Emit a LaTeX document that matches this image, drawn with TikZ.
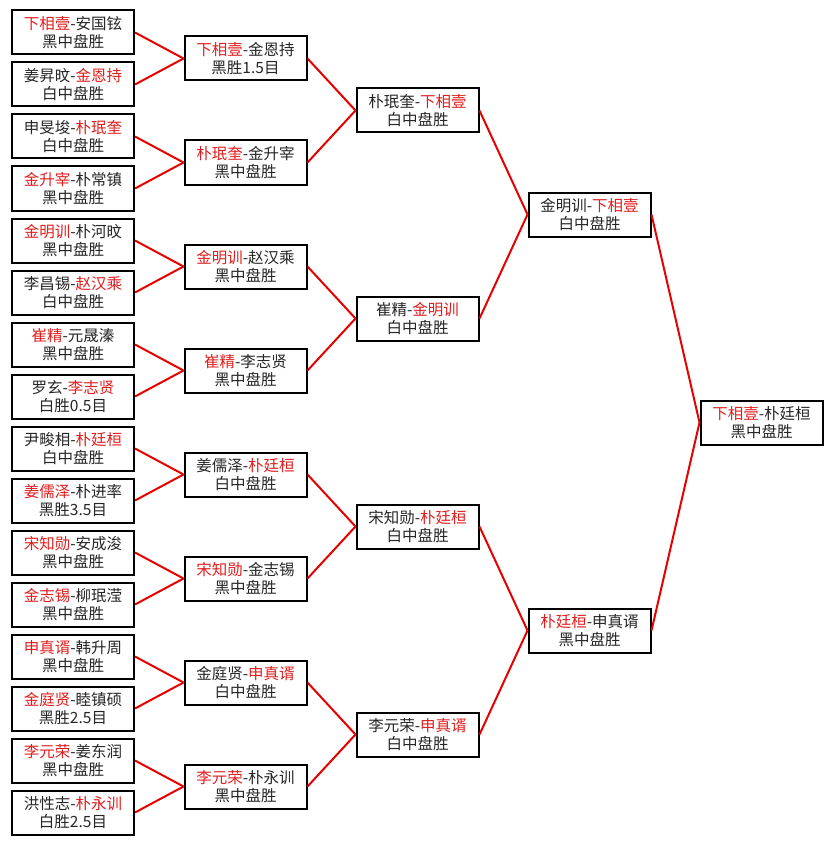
\documentclass[tikz,border=0pt]{standalone}
\usepackage{fontspec}
\setmainfont{Noto Sans CJK SC}
\definecolor{win}{RGB}{225,30,30}
\definecolor{link}{RGB}{230,0,0}
\newcommand\hl[1]{\textcolor{win}{#1}}
\tikzset{
  game/.style={draw=black, line width=2pt, fill=white, minimum width=122pt, minimum height=44pt,
    inner sep=0pt, align=center, font=\fontsize{15.5pt}{18.5pt}\selectfont, text=black!85},
  wire/.style={draw=link, line width=2pt}
}
\begin{document}
\begin{tikzpicture}[x=1pt,y=-1pt]
\useasboundingbox (0,0) rectangle (833,845);
\fill[white] (0,0) rectangle (833,845);
% column 1
\foreach \i/\t in {
 0/{\hl{下相壹}-安国铉\\黑中盘胜},
 1/{姜昇旼-\hl{金恩持}\\白中盘胜},
 2/{申旻埈-\hl{朴珉奎}\\白中盘胜},
 3/{\hl{金升宰}-朴常镇\\黑中盘胜},
 4/{\hl{金明训}-朴河旼\\黑中盘胜},
 5/{李昌锡-\hl{赵汉乘}\\白中盘胜},
 6/{\hl{崔精}-元晟溱\\黑中盘胜},
 7/{罗玄-\hl{李志贤}\\白胜0.5目},
 8/{尹畯相-\hl{朴廷桓}\\白中盘胜},
 9/{\hl{姜儒泽}-朴进率\\黑胜3.5目},
 10/{\hl{宋知勋}-安成浚\\黑中盘胜},
 11/{\hl{金志锡}-柳珉滢\\黑中盘胜},
 12/{\hl{申真谞}-韩升周\\黑中盘胜},
 13/{\hl{金庭贤}-睦镇硕\\黑胜2.5目},
 14/{\hl{李元荣}-姜东润\\黑中盘胜},
 15/{洪性志-\hl{朴永训}\\白胜2.5目}}
  \node[game] (a\i) at (73, 32.5+52*\i) {\t};
% column 2
\foreach \i/\t in {
 0/{\hl{下相壹}-金恩持\\黑胜1.5目},
 1/{\hl{朴珉奎}-金升宰\\黑中盘胜},
 2/{\hl{金明训}-赵汉乘\\黑中盘胜},
 3/{\hl{崔精}-李志贤\\黑中盘胜},
 4/{姜儒泽-\hl{朴廷桓}\\白中盘胜},
 5/{\hl{宋知勋}-金志锡\\黑中盘胜},
 6/{金庭贤-\hl{申真谞}\\白中盘胜},
 7/{\hl{李元荣}-朴永训\\黑中盘胜}}
  \node[game] (b\i) at (245.5, 58.5+104*\i) {\t};
% column 3
\foreach \i/\t in {
 0/{朴珉奎-\hl{下相壹}\\白中盘胜},
 1/{崔精-\hl{金明训}\\白中盘胜},
 2/{宋知勋-\hl{朴廷桓}\\白中盘胜},
 3/{李元荣-\hl{申真谞}\\白中盘胜}}
  \node[game] (c\i) at (417.5, 110.5+208*\i) {\t};
% column 4
\node[game] (d0) at (589.5, 214.5) {金明训-\hl{下相壹}\\白中盘胜};
\node[game] (d1) at (589.5, 630.5) {\hl{朴廷桓}-申真谞\\黑中盘胜};
% column 5
\node[game] (e0) at (761.5, 422.5) {\hl{下相壹}-朴廷桓\\黑中盘胜};
% connectors
\foreach \i in {0,...,7}{
  \pgfmathtruncatemacro\p{2*\i}\pgfmathtruncatemacro\q{2*\i+1}
  \draw[wire] (a\p.east) -- (b\i.west);
  \draw[wire] (a\q.east) -- (b\i.west);
}
\foreach \i in {0,...,3}{
  \pgfmathtruncatemacro\p{2*\i}\pgfmathtruncatemacro\q{2*\i+1}
  \draw[wire] (b\p.east) -- (c\i.west);
  \draw[wire] (b\q.east) -- (c\i.west);
}
\foreach \i in {0,1}{
  \pgfmathtruncatemacro\p{2*\i}\pgfmathtruncatemacro\q{2*\i+1}
  \draw[wire] (c\p.east) -- (d\i.west);
  \draw[wire] (c\q.east) -- (d\i.west);
}
\draw[wire] (d0.east) -- (e0.west);
\draw[wire] (d1.east) -- (e0.west);
\end{tikzpicture}
\end{document}
